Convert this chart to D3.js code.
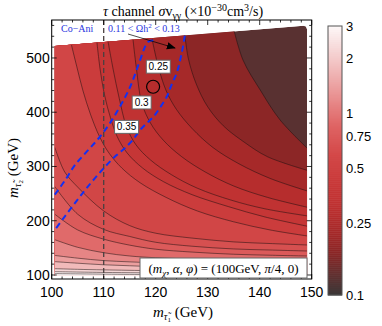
<!DOCTYPE html>
<html><head><meta charset="utf-8">
<script src="https://cdn.jsdelivr.net/npm/d3@7"></script>
<style>body{margin:0;background:#fff}</style></head>
<body><svg id="c" width="382" height="326"></svg>
<script>
// ---------- data (m1, m2 in GeV) ----------
const contourLevels = [0.15, 0.2, 0.25, 0.3, 0.35, 0.4, 0.5, 0.6, 0.7, 0.8, 1.0, 1.25, 1.5, 2.0, 2.5, 3.0];
const contourLines = [
  [[134.9,557],[136.8,496],[140.1,441],[143.9,386],[149.1,334]],
  [[125.6,543],[126.3,498],[127.8,452],[130,410],[133,375],[137,345],[141.5,318],[149.1,293]],
  [[119.3,535],[120.5,484],[122,440],[124,405],[127,370],[131,335],[136,305],[142,278],[149.1,255]],
  [[115.6,537],[116.3,480],[117.3,418],[119,380],[121.5,348],[125,318],[129.5,290],[135,264],[141.5,243],[149.1,225]],
  [[110.8,532],[111.8,480],[113,425],[114.4,373],[116.2,340],[119,312],[123,285],[128,260],[134.5,238],[141,222],[149.1,209]],
  [[108.7,529],[109.3,480],[110.2,430],[111.3,390],[112.6,355],[114.5,325],[117.5,297],[121.5,272],[127,248],[134,226],[141,207],[149.1,190]],
  [[103.8,524],[104.8,485],[106,440],[107.5,395],[109.2,355],[111,325],[113.5,297],[117,270],[122,243],[128,218],[135,198],[142,183],[149.1,172]],
  [[100.6,335],[102.5,290],[105,262],[110,218],[115,191],[120,177],[127,168],[135,161],[142,158],[149.1,155.3]],
  [[100.6,263],[105,212],[110,184],[115,171],[120,160.3],[127,153],[135,148],[142,146],[149.1,144.2]],
  [[100.6,212],[105,183],[110,166],[115,155],[120,147.5],[127,142.2],[135,138.2],[142,136.4],[149.1,135]],
  [[100.6,165],[105,151],[110,141],[115,135],[120,131.8],[127,129.4],[135,127.4],[149.1,125.8]],
  [[100.6,136],[105,131],[110,126.5],[115,124.2],[120,122.3],[127,120.7],[135,119.4],[149.1,118.4]],
  [[100.6,124.6],[105,121.7],[110,118.8],[115,117],[120,115.3],[130,113.7],[149.1,112]],
  [[100.6,111.6],[105,110.4],[110,109.4],[120,107.9],[135,106.8],[149.1,106.4]],
  [[100.6,106.1],[110,104.7],[125,103.5],[149.1,102.7]],
  [[100.6,102.5],[115,101.1],[149.1,100]]
];
const relicUpper = [[100.6,248],[102.6,275],[104.5,303],[107.0,330],[109.3,355],[111.2,380],[113.1,410],[115.1,447],[117.0,496],[118.1,524],[118.6,530],[119.3,532],[119.9,530]];
const relicLower = [[125.6,541],[125.0,509],[124.1,474],[123.1,452],[122.2,430],[120.8,408],[119.5,391],[118.3,380],[117.0,367],[115.6,349],[114.1,334],[112.5,321],[110.3,300],[107.4,268],[104.5,233],[100.6,183]];
const regionOutline = [[100.6,99],[100.6,522],[148.4,559.5],[148.9,558],[149.1,553],[149.1,99]];
const xTicks = [100, 110, 120, 130, 140, 150];
const yTicks = [100, 200, 300, 400, 500];
const barTicks = [3, 2, 1, 0.75, 0.5, 0.25, 0.1];
const contourLabels = [{v:"0.25", m:[120.5,484]}, {v:"0.3", m:[117.3,418]}, {v:"0.35", m:[114.4,373]}];
const marker = [119.5, 447];
const benchmarkLine = 110;
const colorStops = [0.1, 0.125, 0.17, 0.22, 0.27, 0.32, 0.42, 0.6, 0.85, 1.2, 2, 3];
const colorValues = ["#3a3636", "#5c3131", "#8a2626", "#a52929", "#b52d2d", "#c03232", "#c93939", "#d44a4a", "#df6464", "#e88e8e", "#f4cbcb", "#fdf8f8"];

// ---------- scales ----------
const svg = d3.select("#c");
const x = d3.scaleLinear().domain([100,150]).range([51.7,311.7]);
const y = d3.scaleLinear().domain([92.6,570]).range([279,20]);
const logT = d3.scaleLog().domain([0.1,3]).range([1,0]);
const col = d3.scaleLinear().domain(colorStops.map(v=>logT(v))).range(colorValues).interpolate(d3.interpolateRgb).clamp(true);
const colorOf = v => col(logT(v));
const serif = "Liberation Serif, Times New Roman, serif";
const sans = "Liberation Sans, Arial, sans-serif";

const defs = svg.append("defs");
const outlinePath = d3.line().x(d=>x(d[0])).y(d=>y(d[1]))(regionOutline)+"Z";
defs.append("clipPath").attr("id","reg").append("path").attr("d", outlinePath);

const g = svg.append("g").attr("clip-path","url(#reg)");
const bandMid = (i) => {
  const lo = contourLevels[i], hi = i+1<contourLevels.length ? contourLevels[i+1] : 6;
  return Math.sqrt(lo*hi);
};
g.append("path").attr("d", outlinePath).attr("fill", colorOf(Math.sqrt(0.1*contourLevels[0])));
const lineGen = d3.line().x(d=>x(d[0])).y(d=>y(d[1])).curve(d3.curveCatmullRom.alpha(0.5));
const L = x(100)-40, R = x(150)+40, B = y(92.6)+40;
contourLines.forEach((pts,i)=>{
  const first = pts[0], last = pts[pts.length-1];
  const top = first[0] > 101;
  const fy = y(first[1]) - (top ? 60 : 0);
  const path = lineGen(pts) + `L${R},${y(last[1])}L${R},${B}L${L},${B}L${L},${fy}L${x(first[0])},${fy}Z`;
  g.append("path").attr("d", path).attr("fill", colorOf(bandMid(i)));
});
contourLines.forEach((pts)=>{
  g.append("path").attr("d", lineGen(pts)).attr("fill","none").attr("stroke","#1e1212").attr("stroke-opacity",0.75).attr("stroke-width",0.7);
});

// vertical dashed line
svg.append("line").attr("x1",x(benchmarkLine)).attr("x2",x(benchmarkLine)).attr("y1",y(570)).attr("y2",y(92.6))
  .attr("stroke","#4a4040").attr("stroke-width",1.3).attr("stroke-dasharray","5,3");

// relic band
[relicUpper, relicLower].forEach(p=>{
  svg.append("path").attr("d", lineGen(p)).attr("fill","none").attr("stroke","#1530f0")
    .attr("stroke-width",2).attr("stroke-dasharray","6,4");
});

// contour labels
contourLabels.forEach(l=>{
  const cx = x(l.m[0]), cy = y(l.m[1]);
  const w = l.v.length*5+4;
  svg.append("rect").attr("x",cx-w/2).attr("y",cy-6.5).attr("width",w).attr("height",13)
    .attr("fill","#fff").attr("stroke","#666").attr("stroke-width",1);
  svg.append("text").attr("x",cx).attr("y",cy+3.5).attr("text-anchor","middle")
    .attr("font-family",sans).attr("font-size",10).text(l.v);
});
svg.append("circle").attr("cx",x(marker[0])).attr("cy",y(marker[1])).attr("r",6.5)
  .attr("fill","none").attr("stroke","#000").attr("stroke-width",1.2);

// annotations
svg.append("text").attr("x",61).attr("y",32).style("fill","#2a35e0")
  .attr("font-family",serif).attr("font-size",10).text("Co\u2212Ani");
const t2 = svg.append("text").attr("x",108).attr("y",32).style("fill","#2a35e0")
  .attr("font-family",serif).attr("font-size",10);
t2.append("tspan").text("0.11 < \u03A9h");
t2.append("tspan").attr("dy",-4).attr("font-size",7).text("2");
t2.append("tspan").attr("dy",4).text(" < 0.13");
defs.append("marker").attr("id","ah").attr("viewBox","0 0 10 10").attr("refX",9).attr("refY",5)
  .attr("markerWidth",9).attr("markerHeight",9).attr("markerUnits","userSpaceOnUse").attr("orient","auto")
  .append("path").attr("d","M0,1L10,5L0,9Z").attr("fill","#000");
svg.append("line").attr("x1",128).attr("y1",34).attr("x2",175).attr("y2",48)
  .attr("stroke","#000").attr("stroke-width",0.7).attr("marker-end","url(#ah)");

// frame
svg.append("rect").attr("x",x(100)).attr("y",y(570)).attr("width",x(150)-x(100)).attr("height",y(92.6)-y(570))
  .attr("fill","none").attr("stroke","#000").attr("stroke-width",1);
const tickG = svg.append("g").attr("stroke","#000").attr("stroke-width",0.8);
d3.range(100,150.1,2).forEach(v=>{
  const major = v%10===0; const len = major?5:2.5;
  tickG.append("line").attr("x1",x(v)).attr("x2",x(v)).attr("y1",y(92.6)).attr("y2",y(92.6)-len);
  tickG.append("line").attr("x1",x(v)).attr("x2",x(v)).attr("y1",y(570)).attr("y2",y(570)+len);
});
d3.range(100,570,20).forEach(v=>{
  const major = v%100===0; const len = major?5:2.5;
  tickG.append("line").attr("y1",y(v)).attr("y2",y(v)).attr("x1",x(100)).attr("x2",x(100)+len);
  tickG.append("line").attr("y1",y(v)).attr("y2",y(v)).attr("x1",x(150)).attr("x2",x(150)-len);
});
xTicks.forEach(v=>svg.append("text").attr("x",x(v)).attr("y",y(92.6)+18).attr("text-anchor","middle")
  .attr("font-family",sans).attr("font-size",14).text(v));
yTicks.forEach(v=>svg.append("text").attr("x",x(100)-2).attr("y",y(v)+5).attr("text-anchor","end")
  .attr("font-family",sans).attr("font-size",14).text(v));

// legend box
svg.append("rect").attr("x",140).attr("y",258).attr("width",167).attr("height",20)
  .attr("fill","#fff").attr("stroke","#666").attr("stroke-width",1);
const lt = svg.append("text").attr("x",223.5).attr("y",273).attr("text-anchor","middle")
  .attr("font-family",serif).attr("font-size",13);
lt.append("tspan").text("(");
lt.append("tspan").attr("font-style","italic").text("m");
lt.append("tspan").attr("font-style","italic").attr("font-size",9).attr("dy",3).text("\u03C7");
lt.append("tspan").attr("dy",-3).text(", ");
lt.append("tspan").attr("font-style","italic").text("\u03B1");
lt.append("tspan").text(", ");
lt.append("tspan").attr("font-style","italic").text("\u03C6");
lt.append("tspan").text(") = (100GeV, ");
lt.append("tspan").attr("font-style","italic").text("\u03C0");
lt.append("tspan").text("/4, 0)");

// title
const tt = svg.append("text").attr("x",183).attr("y",16).attr("text-anchor","middle")
  .attr("font-family",serif).attr("font-size",14);
tt.append("tspan").attr("font-style","italic").text("\u03C4");
tt.append("tspan").text(" channel ");
tt.append("tspan").attr("font-style","italic").text("\u03C3");
tt.append("tspan").text("v");
tt.append("tspan").attr("font-size",10).attr("dy",3).text("\u03B3\u03B3");
tt.append("tspan").attr("dy",-3).text(" (\u00D710");
tt.append("tspan").attr("font-size",10).attr("dy",-5).text("\u221230");
tt.append("tspan").attr("dy",5).text("cm");
tt.append("tspan").attr("font-size",10).attr("dy",-5).text("3");
tt.append("tspan").attr("dy",5).text("/s)");

// axis labels
const xl = svg.append("text").attr("x",183).attr("y",317).attr("text-anchor","middle")
  .attr("font-family",serif).attr("font-size",15);
xl.append("tspan").attr("font-style","italic").text("m");
xl.append("tspan").attr("font-style","italic").attr("font-size",10).attr("dy",3).text("\u03C4\u0303");
xl.append("tspan").attr("font-size",7).attr("dy",1.5).text("1");
xl.append("tspan").attr("dy",-4.5).text(" (GeV)");
const yl = svg.append("text").attr("transform","translate(18,168) rotate(-90)").attr("text-anchor","middle")
  .attr("font-family",serif).attr("font-size",15);
yl.append("tspan").attr("font-style","italic").text("m");
yl.append("tspan").attr("font-style","italic").attr("font-size",10).attr("dy",3).text("\u03C4\u0303");
yl.append("tspan").attr("font-size",7).attr("dy",1.5).text("2");
yl.append("tspan").attr("dy",-4.5).text(" (GeV)");

// colorbar
const barTop = 26, barBot = 295, barX = 328, barW = 14;
const by = d3.scaleLog().domain([3,0.1]).range([barTop,barBot]);
const nSteps = 135;
for (let i=0;i<nSteps;i++){
  const y0 = barTop + (barBot-barTop)*i/nSteps, y1 = barTop + (barBot-barTop)*(i+1)/nSteps;
  svg.append("rect").attr("x",barX).attr("y",y0).attr("width",barW).attr("height",y1-y0+0.5)
    .attr("fill",colorOf(by.invert((y0+y1)/2)));
}
svg.append("rect").attr("x",barX).attr("y",barTop).attr("width",barW).attr("height",barBot-barTop)
  .attr("fill","none").attr("stroke","#555").attr("stroke-width",1);
barTicks.forEach(v=>svg.append("text").attr("x",barX+barW+4).attr("y",by(v)+5)
  .attr("font-family",sans).attr("font-size",13).text(v));
</script></body></html>
